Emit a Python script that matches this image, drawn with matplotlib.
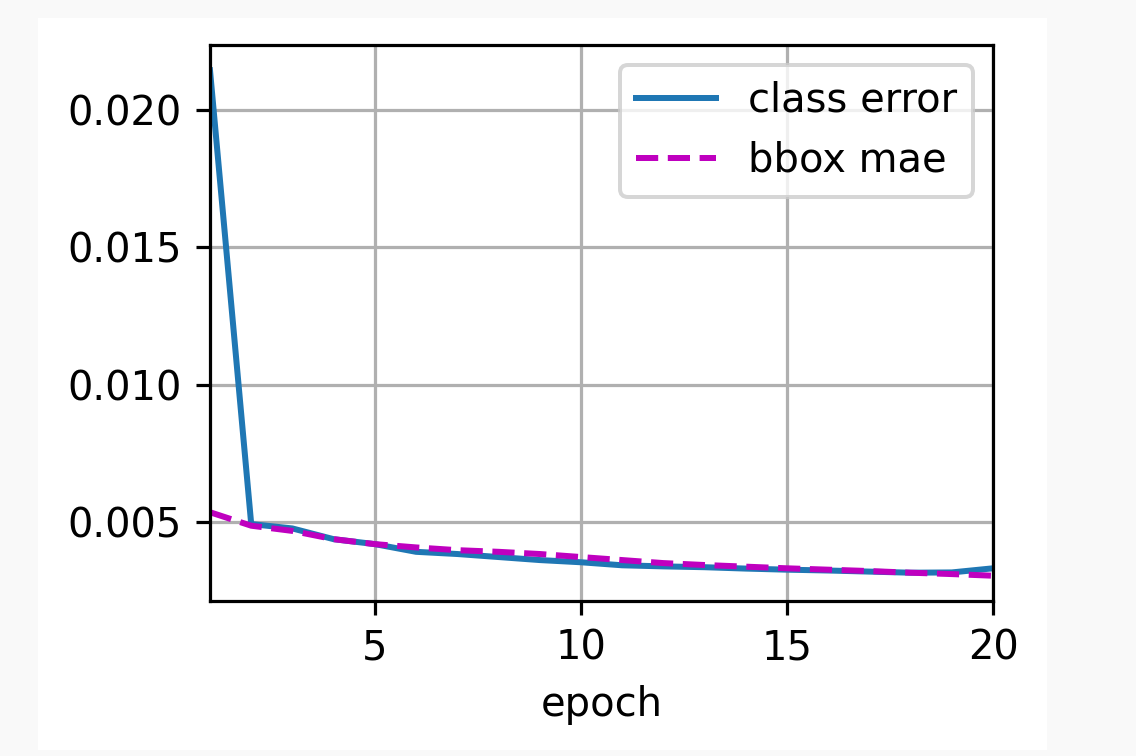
import matplotlib
matplotlib.use('Agg')
import matplotlib.pyplot as plt
from matplotlib.patches import Rectangle

# 训练曲线数据
epochs = list(range(1, 21))
class_error = [0.02144, 0.00493, 0.00477, 0.00438, 0.00420, 0.00392, 0.00384,
               0.00373, 0.00362, 0.00354, 0.00343, 0.00339, 0.00336, 0.00331,
               0.00327, 0.00324, 0.00320, 0.00316, 0.00317, 0.00332]
bbox_mae = [0.00536, 0.00487, 0.00468, 0.00438, 0.00420, 0.00408, 0.00398,
            0.00392, 0.00384, 0.00373, 0.00362, 0.00351, 0.00344, 0.00338,
            0.00332, 0.00327, 0.00322, 0.00316, 0.00311, 0.00305]
legend_labels = ['class error', 'bbox mae']

dpi = 288
fig = plt.figure(figsize=(1136 / dpi, 756 / dpi), dpi=dpi, facecolor='#f9f9f9')
# 白色画布区域，放在坐标轴下面
fig.patches.append(Rectangle((38 / 1136, 6 / 756), 1009 / 1136, 732 / 756,
                             transform=fig.transFigure, facecolor='white',
                             edgecolor='none', zorder=-1))

ax = fig.add_axes([210 / 1136, 1 - 601 / 756, 783 / 1136, 556 / 756])
ax.set_zorder(1)
ax.plot(epochs, class_error, '-', label=legend_labels[0])
ax.plot(epochs, bbox_mae, 'm--', label=legend_labels[1])
ax.set_xlim(1, 20)
ax.set_xticks([5, 10, 15, 20])
ax.set_yticks([0.005, 0.010, 0.015, 0.020])
ax.set_xlabel('epoch')
ax.grid(True)
ax.legend(loc='upper right')

fig.savefig('out.png', dpi=dpi, facecolor=fig.get_facecolor())
